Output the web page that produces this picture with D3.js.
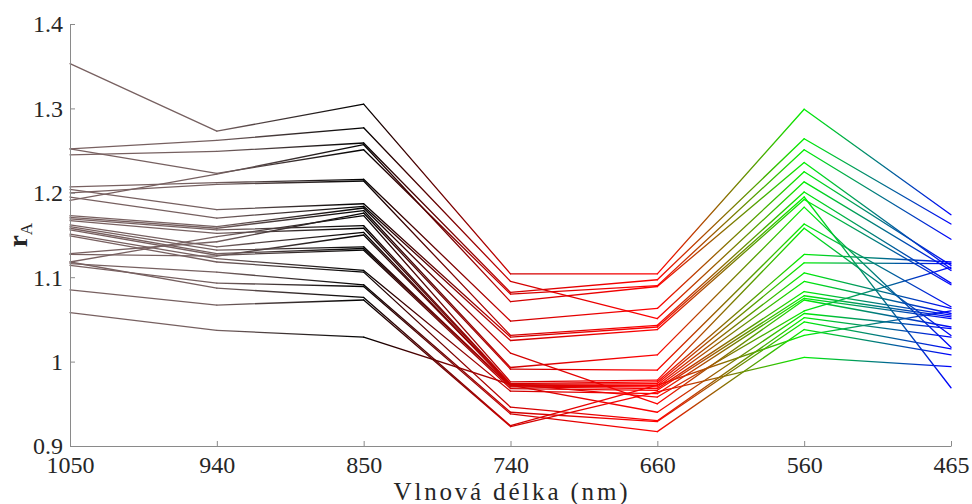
<!DOCTYPE html>
<html>
<head>
<meta charset="utf-8">
<script src="https://cdn.jsdelivr.net/npm/d3@7"></script>
<style>
  html, body { margin: 0; padding: 0; background: #fff; }
  svg { display: block; }
  text { font-family: "Liberation Serif"; fill: #262626; }
</style>
</head>
<body>
<svg id="chart" width="972" height="504"></svg>
<script>
// Categories (wavelength in nm) along the x axis
const wavelengths = ["1050", "940", "850", "740", "660", "560", "465"];
// Colour at each wavelength column (lines are shaded between them)
const columnColors = ["#786060", "#756060", "#000000", "#cf0000", "#ff0000", "#00f000", "#0000ff"];
const yTicks = [0.9, 1, 1.1, 1.2, 1.3, 1.4];
const xTitle = "Vlnová délka (nm)";

// Series: r_A values per sample, one value per wavelength (1050 ... 465)
const s01 = [1.353, 1.273, 1.305, 1.104, 1.104, 1.299, 1.174];
const s02 = [1.252, 1.262, 1.277, 1.095, 1.051, 1.213, 1.108];
const s03 = [1.245, 1.249, 1.259, 1.082, 1.097, 1.264, 1.163];
const s04 = [1.252, 1.223, 1.251, 1.080, 1.090, 1.251, 1.145];
const s05 = [1.191, 1.222, 1.257, 1.071, 1.089, 1.236, 1.110];
const s06 = [1.207, 1.212, 1.216, 1.048, 1.063, 1.225, 1.114];
const s07 = [1.200, 1.210, 1.214, 1.031, 1.043, 1.201, 1.093];
const s08 = [1.204, 1.180, 1.187, 1.029, 1.041, 1.195, 0.969];
const s09 = [1.195, 1.170, 1.184, 1.025, 1.038, 1.192, 1.091];
const s10 = [1.173, 1.160, 1.182, 1.010, 0.950, 1.073, 1.041];
const s11 = [1.171, 1.158, 1.179, 0.993, 1.008, 1.183, 1.017];
const s12 = [1.128, 1.142, 1.176, 0.991, 0.990, 1.163, 1.065];
const s13 = [1.118, 1.148, 1.173, 0.976, 0.978, 1.158, 1.031];
const s14 = [1.169, 1.156, 1.161, 0.974, 0.976, 1.127, 1.118];
const s15 = [1.167, 1.152, 1.158, 0.973, 0.974, 1.117, 1.116];
const s16 = [1.162, 1.136, 1.153, 0.972, 0.972, 1.105, 1.063];
const s17 = [1.160, 1.132, 1.136, 0.971, 0.970, 1.095, 1.057];
const s18 = [1.158, 1.128, 1.134, 0.970, 0.968, 1.083, 1.055];
const s19 = [1.156, 1.126, 1.132, 0.968, 0.966, 1.078, 1.053];
const s20 = [1.151, 1.122, 1.108, 0.965, 0.962, 1.075, 1.051];
const s21 = [1.149, 1.118, 1.106, 0.946, 0.930, 1.052, 1.029];
const s22 = [1.127, 1.125, 1.150, 0.972, 0.940, 1.057, 1.039];
const s23 = [1.116, 1.106, 1.091, 0.940, 0.929, 1.047, 1.015];
const s24 = [1.114, 1.093, 1.089, 0.938, 0.917, 1.038, 1.008];
const s25 = [1.118, 1.087, 1.076, 0.924, 0.972, 1.031, 1.060];
const s26 = [1.085, 1.067, 1.073, 0.923, 0.964, 1.005, 0.994];
const s27 = [1.058, 1.037, 1.029, 0.973, 0.958, 1.060, 1.112];

const series = [s01, s02, s03, s04, s05, s06, s07, s08, s09, s10, s11, s12, s13, s14,
                s15, s16, s17, s18, s19, s20, s21, s22, s23, s24, s25, s26, s27];

const W = 972, H = 504;
const margin = { left: 70, right: 21, top: 24, bottom: 58 };
const svg = d3.select("#chart");
const serif = '"Liberation Serif"';

const x = d3.scalePoint().domain(wavelengths).range([margin.left, W - margin.right]);
const y = d3.scaleLinear().domain([0.9, 1.4]).range([H - margin.bottom, margin.top]);

// Gradients between adjacent columns
const defs = svg.append("defs");
for (let i = 0; i < wavelengths.length - 1; i++) {
  const g = defs.append("linearGradient")
    .attr("id", "grad" + i)
    .attr("gradientUnits", "userSpaceOnUse")
    .attr("x1", x(wavelengths[i])).attr("x2", x(wavelengths[i + 1]))
    .attr("y1", 0).attr("y2", 0);
  g.append("stop").attr("offset", "0%").attr("stop-color", columnColors[i]);
  g.append("stop").attr("offset", "100%").attr("stop-color", columnColors[i + 1]);
}

// Lines: each segment uses the gradient of its interval
const lineGroup = svg.append("g");
series.forEach(vals => {
  for (let i = 0; i < vals.length - 1; i++) {
    lineGroup.append("line")
      .attr("x1", x(wavelengths[i])).attr("y1", y(vals[i]))
      .attr("x2", x(wavelengths[i + 1])).attr("y2", y(vals[i + 1]))
      .attr("stroke", "url(#grad" + i + ")")
      .attr("stroke-width", 1.3)
      .attr("stroke-linecap", "round");
  }
});

// Axes
const axisColor = "#8a8a8a";
const yAxis = svg.append("g")
  .attr("transform", `translate(${margin.left},0)`)
  .call(d3.axisLeft(y).tickValues(yTicks).tickSizeInner(-5).tickSizeOuter(0).tickPadding(7)
    .tickFormat(d => d3.format("")(+d.toFixed(1))));
const xAxis = svg.append("g")
  .attr("transform", `translate(0,${H - margin.bottom})`)
  .call(d3.axisBottom(x).tickSizeInner(-5).tickSizeOuter(0).tickPadding(10));

[yAxis, xAxis].forEach(a => {
  a.attr("font-family", serif).attr("font-size", 24);
  a.select(".domain").attr("stroke", axisColor).attr("stroke-width", 1);
  a.selectAll(".tick line").attr("stroke", axisColor).attr("stroke-width", 1);
  a.selectAll(".tick text")
    .attr("fill", "#262626")
    .style("font-family", serif)
    .style("font-size", "24px");
});
yAxis.selectAll(".tick text").attr("dy", "0.33em");
xAxis.selectAll(".tick text").attr("y", 27).attr("dy", 0);

// X title
svg.append("text")
  .attr("x", (margin.left + W - margin.right) / 2)
  .attr("y", 500)
  .attr("text-anchor", "middle")
  .attr("textLength", 234)
  .attr("lengthAdjust", "spacing")
  .style("font-family", serif)
  .style("font-size", "25px")
  .text(xTitle);

// Y title: bold r with subscript A
const yt = svg.append("text")
  .attr("transform", `translate(27,${(margin.top + H - margin.bottom) / 2}) rotate(-90)`)
  .attr("text-anchor", "middle")
  .style("font-family", serif)
  .style("font-size", "27px");
yt.append("tspan").style("font-weight", "bold").text("r");
yt.append("tspan").attr("dy", 5).style("font-size", "17px").text("A");
</script>
</body>
</html>
